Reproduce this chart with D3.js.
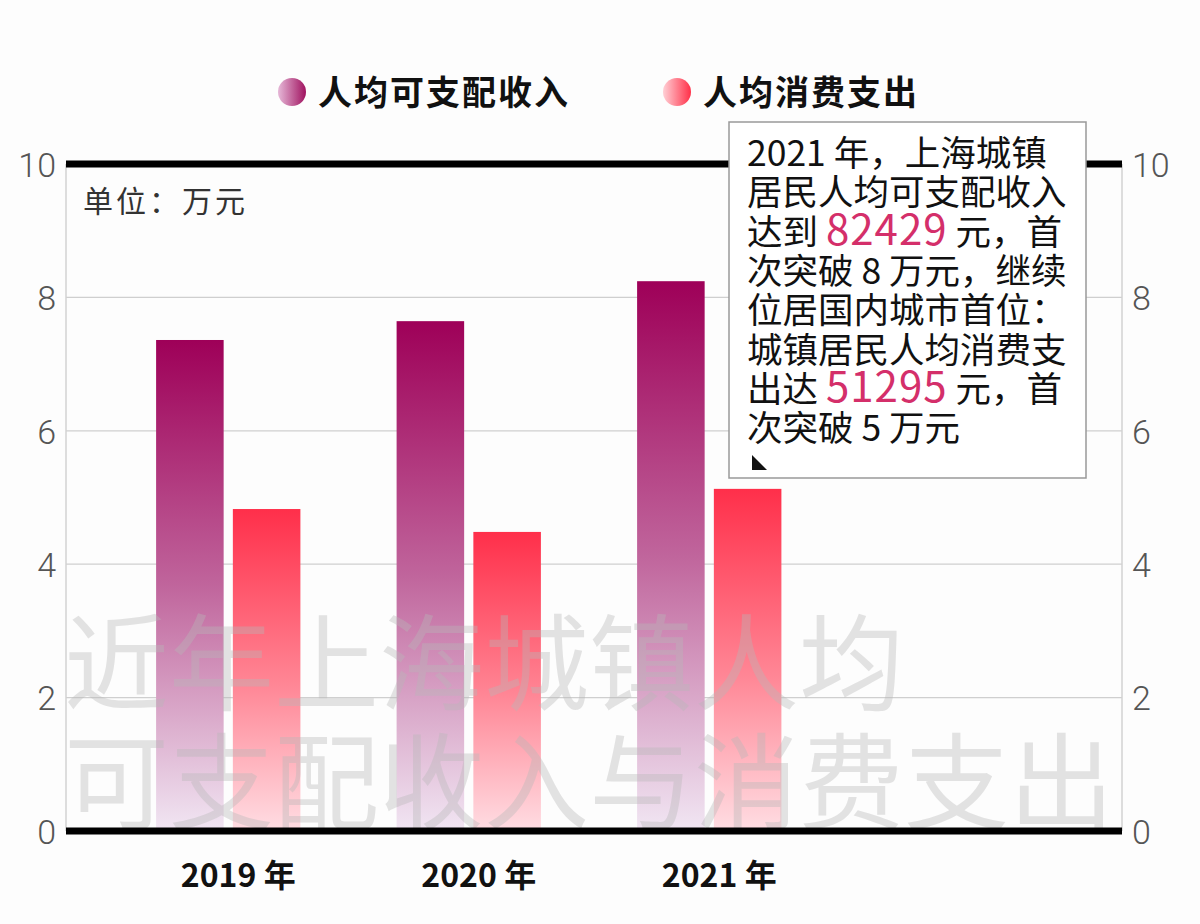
<!DOCTYPE html>
<html><head><meta charset="utf-8">
<script src="https://cdn.jsdelivr.net/npm/d3@7"></script>
<style>
html,body{margin:0;padding:0;background:#fdfdfd;}
svg{display:block;}
</style></head>
<body><svg id="c" width="1200" height="924"></svg>
<script>
const years = ["2019 年", "2020 年", "2021 年"];
const seriesNames = ["人均可支配收入", "人均消费支出"];
const income = [7.3615, 7.6437, 8.2429];
const spending = [4.8272, 4.4839, 5.1295];
const yTicks = [0, 2, 4, 6, 8, 10];
const unitLabel = "单位：万元";
const watermark = ["近年上海城镇人均", "可支配收入与消费支出"];
const noteLines = [
  [["2021 年，上海城镇", false]],
  [["居民人均可支配收入", false]],
  [["达到 ", false], ["82429", true], [" 元，首", false]],
  [["次突破 8 万元，继续", false]],
  [["位居国内城市首位：", false]],
  [["城镇居民人均消费支", false]],
  [["出达 ", false], ["51295", true], [" 元，首", false]],
  [["次突破 5 万元", false]]
];

const svg = d3.select("#c");
const font = "'Noto Sans CJK SC', 'Noto Sans', sans-serif";
const L = 66, R = 1122;
const y = d3.scaleLinear().domain([0, 10]).range([831, 164]);
const x = d3.scaleBand().domain(years).range([108, 829.5]).paddingInner(0.4).paddingOuter(0.2);
const xs = d3.scaleBand().domain(seriesNames).range([0, x.bandwidth()]).paddingInner(0.12);

const defs = svg.append("defs");
function vgrad(id, stops) {
  const g = defs.append("linearGradient").attr("id", id)
    .attr("x1", 0).attr("x2", 0).attr("y1", 0).attr("y2", 1);
  stops.forEach(s => g.append("stop").attr("offset", s[0]).attr("stop-color", s[1]));
}
vgrad("gInc", [["0%", "#9e0058"], ["50%", "#c0659c"], ["100%", "#f1e6f3"]]);
vgrad("gSp", [["0%", "#ff2f4a"], ["55%", "#ff8796"], ["100%", "#ffdde3"]]);
function hgrad(id, a, b) {
  const g = defs.append("linearGradient").attr("id", id).attr("x1", 0).attr("x2", 1).attr("y1", 0).attr("y2", 0);
  g.append("stop").attr("offset", "0%").attr("stop-color", a);
  g.append("stop").attr("offset", "100%").attr("stop-color", b);
}
hgrad("lInc", "#e6b8d8", "#a0125f");
hgrad("lSp", "#ffd0d6", "#ff3048");

// gridlines
svg.append("g").selectAll("line").data(yTicks.filter(d => d > 0 && d < 10)).join("line")
  .attr("x1", L).attr("x2", R).attr("y1", d => y(d)).attr("y2", d => y(d))
  .attr("stroke", "#cfcfcf").attr("stroke-width", 1.2);
[L, R].forEach(xx => svg.append("line").attr("x1", xx).attr("x2", xx).attr("y1", y(10)).attr("y2", y(0))
  .attr("stroke", "#d2d2d2").attr("stroke-width", 1.5));

// axes labels
const axL = svg.append("g").attr("transform", `translate(${L - 8},0)`)
  .call(d3.axisLeft(y).tickValues(yTicks).tickSize(0).tickPadding(2));
const axR = svg.append("g").attr("transform", `translate(${R + 8},0)`)
  .call(d3.axisRight(y).tickValues(yTicks).tickSize(0).tickPadding(2));
[axL, axR].forEach(a => {
  a.select(".domain").remove();
  a.selectAll("text").attr("font-family", "Roboto, 'Liberation Sans', sans-serif").attr("font-weight", 300)
    .attr("font-size", 34).attr("fill", "#555").attr("dy", "0.36em");
});

// bars
const data = years.map((yr, i) => ({ yr, vals: [income[i], spending[i]] }));
const grp = svg.append("g").selectAll("g").data(data).join("g").attr("transform", d => `translate(${x(d.yr)},0)`);
grp.selectAll("rect").data(d => d.vals.map((v, k) => ({ v, k }))).join("rect")
  .attr("x", d => xs(seriesNames[d.k])).attr("width", xs.bandwidth())
  .attr("y", d => y(d.v)).attr("height", d => y(0) - y(d.v))
  .attr("fill", d => d.k === 0 ? "url(#gInc)" : "url(#gSp)");

// watermark
svg.append("g").selectAll("text").data(watermark).join("text")
  .attr("x", 64).attr("y", (d, i) => 702 + i * 119)
  .attr("font-family", font).attr("font-size", 105).attr("fill", "#b8b8b8").attr("opacity", 0.38)
  .text(d => d);

// thick top/bottom lines
[10, 0].forEach(v => svg.append("line").attr("x1", L).attr("x2", R).attr("y1", y(v)).attr("y2", y(v))
  .attr("stroke", "#000").attr("stroke-width", 7));

// unit label
svg.append("text").attr("x", 83).attr("y", 212).attr("font-family", font).attr("font-size", 30)
  .attr("letter-spacing", 3).attr("fill", "#333").text(unitLabel);

// x labels
svg.append("g").selectAll("text").data(years).join("text")
  .attr("x", d => x(d) + x.bandwidth() / 2 + 10).attr("y", 887).attr("text-anchor", "middle")
  .attr("font-family", font).attr("font-weight", 700).attr("font-size", 32).attr("fill", "#111")
  .text(d => d);

// legend
const lg = [{ n: seriesNames[0], cx: 292, f: "url(#lInc)" }, { n: seriesNames[1], cx: 677, f: "url(#lSp)" }];
const lgg = svg.append("g").selectAll("g").data(lg).join("g");
lgg.append("circle").attr("cx", d => d.cx).attr("cy", 92).attr("r", 14).attr("fill", d => d.f);
lgg.append("text").attr("x", d => d.cx + 26).attr("y", 105).attr("font-family", font).attr("font-weight", 700)
  .attr("font-size", 34).attr("letter-spacing", 2).attr("fill", "#111").text(d => d.n);

// annotation box
const box = svg.append("g");
box.append("rect").attr("x", 729).attr("y", 122).attr("width", 357).attr("height", 356)
  .attr("fill", "#fff").attr("stroke", "#999").attr("stroke-width", 1.5);
noteLines.forEach((segs, i) => {
  const tx = box.append("text").attr("x", 747).attr("y", 166 + i * 39.3)
    .attr("font-family", font).attr("font-size", 35.5).attr("fill", "#111");
  segs.forEach(s => {
    const t = tx.append("tspan").text(s[0]);
    if (s[1]) t.attr("fill", "#d42f6a").attr("font-size", 42).attr("letter-spacing", 1);
  });
});
box.append("path").attr("d", "M752,455 L752,470 L767,470 Z").attr("fill", "#111");
</script></body></html>
